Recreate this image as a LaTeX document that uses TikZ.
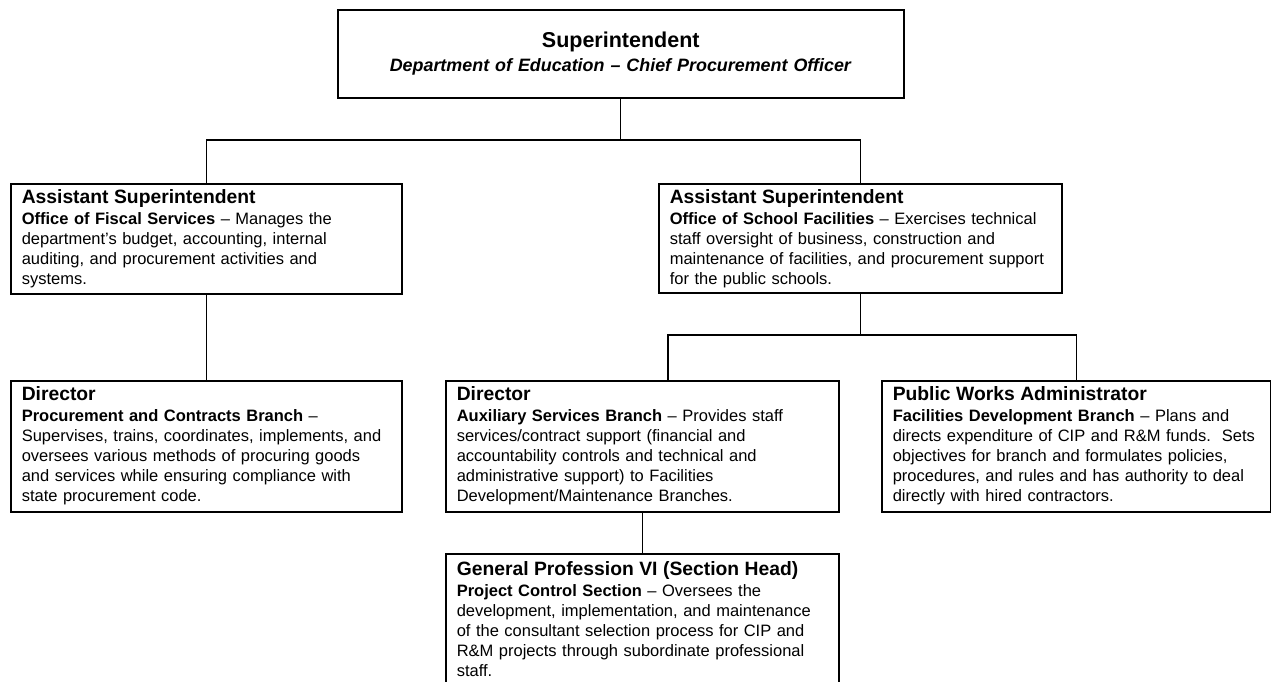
\documentclass[tikz,border=0pt]{standalone}
\usepackage{fontspec}
\setmainfont{Liberation Sans}
\usetikzlibrary{positioning}

\newcommand\bodysize{\fontsize{16.5}{20}\selectfont}
\newcommand\headsize{\fontsize{19.3}{20}\selectfont}
\newcommand\orghead[1]{{\headsize\bfseries #1}\\[1pt]}

\tikzset{
  orgbox/.style={draw, line width=1.5pt, anchor=north west, align=left,
    font=\bodysize, inner xsep=11pt, inner ysep=0pt, text height=20pt},
  link/.style={line width=1.4pt},
}

\begin{document}
\begin{tikzpicture}[x=1pt, y=-1pt]
  \useasboundingbox (0,0) rectangle (1271,681);

  % top
  \node[orgbox, align=center, text width=544pt, text height=38pt, text depth=50pt,
        font=\fontsize{17.9}{24}\selectfont] (sup) at (337,9)
    {{\fontsize{21.5}{24}\selectfont\bfseries Superintendent}\\
     \textbf{\textit{Department of Education -- Chief Procurement Officer}}};

  % assistant superintendents
  \node[orgbox, text width=369pt, text depth=90pt] (fiscal) at (10,183)
    {\orghead{Assistant Superintendent}
     \textbf{Office of Fiscal Services} -- Manages the\\
     department’s budget, accounting, internal\\
     auditing, and procurement activities and\\
     systems.};
  \node[orgbox, text width=381pt, text depth=89pt] (facil) at (658,183)
    {\orghead{Assistant Superintendent}
     \textbf{Office of School Facilities} -- Exercises technical\\
     staff oversight of business, construction and\\
     maintenance of facilities, and procurement support\\
     for the public schools.};

  % branches
  \node[orgbox, text width=369pt, text depth=111pt] (procure) at (10,380)
    {\orghead{Director}
     \textbf{Procurement and Contracts Branch} --\\
     Supervises, trains, coordinates, implements, and\\
     oversees various methods of procuring goods\\
     and services while ensuring compliance with\\
     state procurement code.};
  \node[orgbox, text width=371pt, text depth=111pt] (aux) at (445,380)
    {\orghead{Director}
     \textbf{Auxiliary Services Branch} -- Provides staff\\
     services/contract support (financial and\\
     accountability controls and technical and\\
     administrative support) to Facilities\\
     Development/Maintenance Branches.};
  \node[orgbox, text width=367pt, text depth=111pt] (works) at (881,380)
    {\orghead{Public Works Administrator}
     \textbf{Facilities Development Branch} -- Plans and\\
     directs expenditure of CIP and R\&M funds.\ \ Sets\\
     objectives for branch and formulates policies,\\
     procedures, and rules and has authority to deal\\
     directly with hired contractors.};

  % section
  \node[orgbox, text width=371pt, text height=22pt, text depth=160pt] (proj) at (445,553)
    {\orghead{General Profession VI (Section Head)}
     \textbf{Project Control Section} -- Oversees the\\
     development, implementation, and maintenance\\
     of the consultant selection process for CIP and\\
     R\&M projects through subordinate professional\\
     staff.};

  % connectors
  \coordinate (topbar) at (620,140);
  \coordinate (midbar) at (859.5,335);
  \coordinate (auxdrop) at (668,380);
  \draw[link] (sup.south) -- (sup.south |- topbar);
  \draw[link] (fiscal.north) |- (sup.south |- topbar) -| (facil.north);
  \draw[link] (fiscal.south) -- (procure.north);
  \draw[link] (facil.south) -- (facil.south |- midbar);
  \draw[link] (auxdrop) |- (facil.south |- midbar) -| (works.north);
  \draw[link] (aux.south) -- (proj.north);
\end{tikzpicture}
\end{document}
